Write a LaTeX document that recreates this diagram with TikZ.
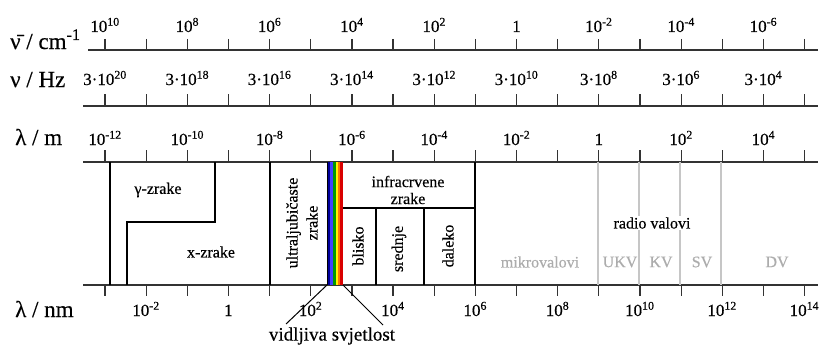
\documentclass[tikz,border=0pt]{standalone}
\usepackage{fontspec}
\setmainfont{Liberation Serif}[FakeBold=0.4]
\usepackage{tikz}
\usetikzlibrary{positioning}

\begin{document}
\begin{tikzpicture}[x=1pt, y=-1pt,
      axis/.style = {line width=1.3pt, black!80},
      tick/.style = {line width=1.2pt, black!80},
      border/.style = {line width=1.5pt, black},
      radio/.style = {line width=1.2pt, gray!45},
      ticklabel/.style = {anchor=base, inner sep=0pt, font=\fontsize{17}{19}\selectfont},
      axlabel/.style = {anchor=base west, inner sep=0pt, font=\fontsize{23}{26}\selectfont},
      region/.style = {inner sep=0pt, align=center, font=\fontsize{16}{17}\selectfont},
      band/.style = {region, text=gray!65}
    ]
    \useasboundingbox (0,0) rectangle (827,345);

    % axis names
    \node[axlabel] (wavenum) at (10,49)  {\={ν} / cm\textsuperscript{-1}};
    \node[axlabel] (freq)    at (10,87)  {ν / Hz};
    \node[axlabel] (lam)     at (15,145) {λ / m};
    \node[axlabel] (lamnm)   at (15,317) {λ / nm};

    % the four scales
    \draw[axis] (88,50) -- (818,50);
    \draw[axis] (83,106) -- (818,106);
    \draw[axis] (83,162) -- (818,162);
    \draw[axis] (83,285) -- (818,285);
    \foreach \k in {0,...,17} {
      \draw[tick] ({105+41.15*\k},39) -- ({105+41.15*\k},50);
      \draw[tick] ({105+41.15*\k},94) -- ({105+41.15*\k},106);
      \draw[tick] ({105+41.15*\k},150) -- ({105+41.15*\k},162);
      \draw[tick] ({105+41.15*\k},285) -- ({105+41.15*\k},296);
    }
    \foreach \lab [count=\i from 0] in {10\textsuperscript{10}, 10\textsuperscript{8}, 10\textsuperscript{6}, 10\textsuperscript{4}, 10\textsuperscript{2}, 1, 10\textsuperscript{-2}, 10\textsuperscript{-4}, 10\textsuperscript{-6}}
      \node[ticklabel] (wn\i) at ({105+82.3*\i},32) {\lab};
    \foreach \e [count=\i from 0] in {20,18,16,14,12,10,8,6,4}
      \node[ticklabel] (hz\i) at ({105+82.3*\i},85) {3·10\textsuperscript{\e}};
    \foreach \lab [count=\i from 0] in {10\textsuperscript{-12}, 10\textsuperscript{-10}, 10\textsuperscript{-8}, 10\textsuperscript{-6}, 10\textsuperscript{-4}, 10\textsuperscript{-2}, 1, 10\textsuperscript{2}, 10\textsuperscript{4}}
      \node[ticklabel] (wm\i) at ({105+82.3*\i},145) {\lab};
    \foreach \lab [count=\i from 0] in {10\textsuperscript{-2}, 1, 10\textsuperscript{2}, 10\textsuperscript{4}, 10\textsuperscript{6}, 10\textsuperscript{8}, 10\textsuperscript{10}, 10\textsuperscript{12}, 10\textsuperscript{14}}
      \node[ticklabel] (nm\i) at ({146+82.3*\i},316) {\lab};

    % gamma and x rays
    \draw[border] (110,162) -- (110,285);
    \draw[border] (215,162) -- (215,222) -- (127,222) -- (127,285);
    \node[region] (gamma) at (158,190) {γ-zrake};
    \node[region] (xray)  at (211,252) {x-zrake};

    % ultraviolet
    \draw[border] (270,162) -- (270,285);
    \node[region, rotate=90, font=\fontsize{16}{20}\selectfont] (uv) at (302,223) {ultraljubičaste\\zrake};

    % visible band
    \fill[blue!60!black]  (327,162) rectangle (330,285);
    \fill[blue!75]        (330,162) rectangle (333,285);
    \fill[green!60!black] (333,162) rectangle (335.5,285);
    \fill[yellow]         (335.5,162) rectangle (338,285);
    \fill[orange!90!red]  (338,162) rectangle (340,285);
    \fill[red!85!black]   (340,162) rectangle (343,285);
    \draw[border, line width=1pt] (327,162) -- (327,285);

    % infrared
    \draw[border] (343,208) -- (475,208);
    \draw[border] (376,208) -- (376,285);
    \draw[border] (424,208) -- (424,285);
    \draw[border, line width=1.8pt] (475,162) -- (475,285);
    \node[region] (ir)    at (408,190) {infracrvene\\zrake};
    \node[region, rotate=90] (near) at (358,246) {blisko};
    \node[region, rotate=90] (mid)  at (399,249) {srednje};
    \node[region, rotate=90] (far)  at (448,246) {daleko};

    % radio
    \draw[radio] (598,162) -- (598,285);
    \draw[radio] (639,162) -- (639,285);
    \draw[radio] (680,162) -- (680,285);
    \draw[radio] (721,162) -- (721,285);
    \node[region, fill=white, inner sep=1pt] (radio) at (652,223) {radio valovi};
    \node[band] (micro) at (540,262) {mikrovalovi};
    \node[band] (ukv)   at (620,262) {UKV};
    \node[band] (kv)    at (661,262) {KV};
    \node[band] (sv)    at (702,262) {SV};
    \node[band] (dv)    at (777,262) {DV};

    % visible light label
    \node[region, font=\fontsize{19}{22}\selectfont] (vis) at (332,336) {vidljiva svjetlost};
    \coordinate (visL) at (327,285);
    \coordinate (visR) at (343,285);
    \coordinate (visLend) at (286,324);
    \coordinate (visRend) at (383,325);
    \draw[line width=1pt] (visL) -- (visLend);
    \draw[line width=1pt] (visR) -- (visRend);
  \end{tikzpicture}
\end{document}
